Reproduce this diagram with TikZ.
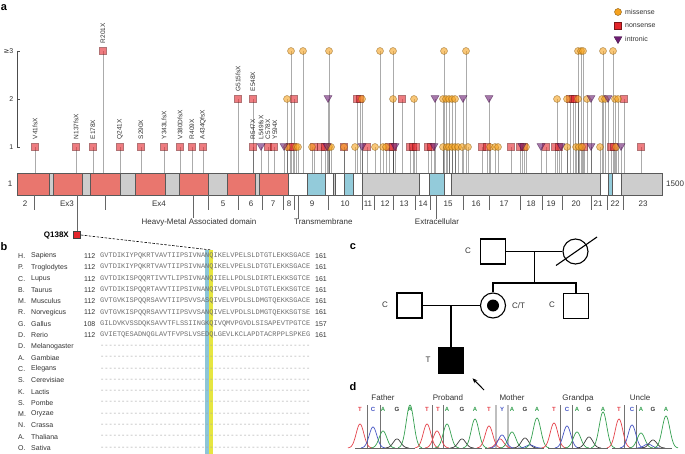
\documentclass[tikz,border=0pt]{standalone}
\usepackage{fontspec}
\setmainfont{Liberation Sans}
\setmonofont{Liberation Mono}
\newfontfamily\dvfont{DejaVu Sans}
\usetikzlibrary{shapes.geometric,arrows.meta}
\definecolor{misC}{HTML}{F5A21E}
\definecolor{nonC}{HTML}{E3262C}
\definecolor{intC}{HTML}{6C1D72}
\definecolor{exRed}{HTML}{E9766E}
\definecolor{exGray}{HTML}{CDCDCD}
\definecolor{exBlue}{HTML}{93CBDA}
\definecolor{hlBlue}{HTML}{8DC6D8}
\definecolor{hlYel}{HTML}{E6E640}
\definecolor{chT}{HTML}{E5434B}
\definecolor{chC}{HTML}{4656C4}
\definecolor{chA}{HTML}{35A050}
\definecolor{chG}{HTML}{3A3A3A}
\definecolor{txt}{HTML}{333333}
\definecolor{seqg}{HTML}{6E6E6E}
\begin{document}
\begin{tikzpicture}[x=1pt,y=-1pt,
  plab/.style={font=\fontsize{11}{12}\selectfont\bfseries, inner sep=0},
  stem/.style={draw=black, opacity=0.33, line width=0.6},
  mis/.style={circle, draw=misC!55!black, fill=misC, fill opacity=0.6, draw opacity=0.6, minimum size=7, inner sep=0, line width=0.5},
  non/.style={rectangle, draw=nonC!55!black, fill=nonC, fill opacity=0.6, draw opacity=0.6, minimum size=6.8, inner sep=0, line width=0.5},
  intr/.style={regular polygon, regular polygon sides=3, shape border rotate=180, draw=intC!60!black, fill=intC, fill opacity=0.6, draw opacity=0.6, minimum size=9, inner sep=0, line width=0.5},
  mlab/.style={font=\fontsize{6.5}{7}\selectfont, text=txt, rotate=90, anchor=west, inner sep=0},
  axlab/.style={font=\fontsize{7}{8}\selectfont, text=txt, anchor=east, inner sep=0},
  exlab/.style={font=\fontsize{8}{9}\selectfont, text=txt, inner sep=0},
  seg/.style={draw=black!65, line width=0.6},
  sep/.style={draw=black!60, line width=0.6},
  spab/.style={font=\fontsize{7}{8}\selectfont, text=txt, anchor=west, inner sep=0},
  spnum/.style={font=\fontsize{7}{8}\selectfont, text=txt, inner sep=0},
  seqt/.style={font=\fontsize{7}{8}\selectfont\ttfamily, text=seqg, anchor=west, inner sep=0},
  ped/.style={draw, line width=1.1, minimum size=25, inner sep=0},
  pl/.style={line width=1.1},
  pedlab/.style={font=\fontsize{8}{9}\selectfont, text=txt, inner sep=0},
  clab/.style={font=\fontsize{8}{9}\selectfont, text=txt, inner sep=0},
  blet/.style={font=\fontsize{6}{7}\selectfont\bfseries, inner sep=0},
  cbase/.style={draw=black!60, line width=0.6},
  cvl/.style={draw=black!55, line width=0.7},
  leglab/.style={font=\fontsize{7}{8}\selectfont, text=txt, anchor=west, inner sep=0}
]
\useasboundingbox (0,0) rectangle (685,454);
\fill[white] (0,0) rectangle (685,454);

% ---------------- panel letters
\node[plab] (La) at (4,8) {a};
\node[plab] (Lb) at (4,247) {b};
\node[plab] (Lc) at (353,247) {c};
\node[plab] (Ld) at (353,387) {d};

% ---------------- legend
\node[circle, draw=misC!55!black, fill=misC, minimum size=7, inner sep=0] (lgm) at (618,12) {};
\node[leglab] (lgmt) at (625,12) {missense};
\node[rectangle, draw=nonC!55!black, fill=nonC, minimum size=7, inner sep=0] (lgn) at (618,26) {};
\node[leglab] (lgnt) at (625,26) {nonsense};
\node[regular polygon, regular polygon sides=3, shape border rotate=180, draw=intC!60!black, fill=intC, minimum size=9, inner sep=0] (lgi) at (618,39) {};
\node[leglab] (lgit) at (625,39) {intronic};

% ---------------- y axis
\draw[draw=black!70, line width=0.6] (17,51) -- (17,147);
\foreach \y in {51,99,147} \draw[draw=black!70, line width=0.6] (17,\y) -- (20,\y);
\node[axlab] (ax3) at (13.5,51) {{\dvfont ≥}3};
\node[axlab] (ax2) at (13.5,99) {2};
\node[axlab] (ax1) at (13.5,147) {1};

% ---------------- lollipop data
\def\sqA{35,76,93,120,141,164,180,192,203,253,268,274,290,293,314,321,325,344,367,389,393,410,413,416,428,431,482,487,511,520,524,546,555,559,584,611,614,641}
\def\ciA{287,296,298,312,329,331,344,355,375,383,386,443,447,449,452,455,458,462,468,490,495,498,526,567,576,579,582,600,616}
\def\trA{261,284,327,362,395,434,522,541,561,591,621}
\def\sqB{238,253,294,357,360,402,570,573,575,624}
\def\ciB{287,362,393,414,443,446,449,452,455,557,567,578,587,602,605,615,618}
\def\trB{328,435,463,489,591,608}
\def\sqC{103}
\def\ciC{291,303,329,380,393,444,466,578,581,583,603,613}

% stems
\foreach \x in \sqA {\draw[stem] (\x,173) -- (\x,147);}
\foreach \x in \ciA {\draw[stem] (\x,173) -- (\x,147);}
\foreach \x in \trA {\draw[stem] (\x,173) -- (\x,147);}
\foreach \x in \sqB {\draw[stem] (\x,173) -- (\x,99);}
\foreach \x in \ciB {\draw[stem] (\x,173) -- (\x,99);}
\foreach \x in \trB {\draw[stem] (\x,173) -- (\x,99);}
\foreach \x in \sqC {\draw[stem] (\x,173) -- (\x,51);}
\foreach \x in \ciC {\draw[stem] (\x,173) -- (\x,51);}

% markers
\foreach \x [count=\i] in \sqA {\node[non] (sa\i) at (\x,147) {};}
\foreach \x [count=\i] in \ciA {\node[mis] (ca\i) at (\x,147) {};}
\foreach \x [count=\i] in \trA {\node[intr] (ta\i) at (\x,146) {};}
\foreach \x [count=\i] in \sqB {\node[non] (sb\i) at (\x,99) {};}
\foreach \x [count=\i] in \ciB {\node[mis] (cb\i) at (\x,99) {};}
\foreach \x [count=\i] in \trB {\node[intr] (tb\i) at (\x,98) {};}
\foreach \x [count=\i] in \sqC {\node[non] (sc\i) at (\x,51) {};}
\foreach \x [count=\i] in \ciC {\node[mis] (cc\i) at (\x,51) {};}

% mutation labels
\foreach \x/\t [count=\i] in {35/V41fsX, 76/N137fsX, 93/E178X, 120/Q241X, 141/S290X, 164/Y343LfsX, 180/V380DfsX, 192/R409X, 203/A434QfsX, 253/R547X, 261/L549fsX, 268/C578X, 275/Y594X}
  {\node[mlab] (ml\i) at (\x,139.5) {\t};}
\node[mlab] (mlG) at (238,91.5) {G515fsX};
\node[mlab] (mlE) at (253,91.5) {E548X};
\node[mlab] (mlR) at (103,43.5) {R201X};

% ---------------- protein bar
\foreach \a/\b/\c in {17/49/exRed, 49/53/exGray, 53/82/exRed, 82/90/exGray, 90/120/exRed, 120/135/exGray, 135/165/exRed, 165/179/exGray, 179/208/exRed, 208/227/exGray, 227/255/exRed, 255/259/exGray, 259/288/exRed, 288/307/white, 307/325/exBlue, 325/333/white, 333/335/exGray, 335/344/white, 344/353/exBlue, 353/362/white, 362/419/exGray, 419/429/white, 429/444/exBlue, 444/451/white, 451/600/exGray, 600/608/white, 608/612/exBlue, 612/621/white, 621/662/exGray}
  {\draw[seg, fill=\c] (\a,173) rectangle (\b,195);}
\node[exlab] (b1) at (10,184) {1};
\node[exlab, anchor=west] (b1500) at (666,184) {1500};

% exon separators and labels
\foreach \x in {34,105,208,238,262,283,294,328,362,374,393,415,430,463,489,520,542,562,591,607,623}
  {\draw[sep] (\x,195) -- (\x,210);}
\foreach \x/\t [count=\i] in {25/2, 67/Ex3, 159/Ex4, 223/5, 251/6, 273/7, 289/8, 312/9, 345/10, 368/11, 385/12, 404/13, 423/14, 448/15, 476/16, 504/17, 531/18, 551/19, 576/20, 598/21, 615/22, 643/23}
  {\node[exlab] (ex\i) at (\x,204) {\t};}

% domain labels
\node[exlab] (hma) at (199,222) {Heavy-Metal Associated domain};
\node[exlab, anchor=west] (tm) at (294,222) {Transmembrane};
\node[exlab] (ec) at (437,222) {Extracellular};
\coordinate (hmaT) at (193,195);
\coordinate (tmT) at (298,195);
\coordinate (ecT) at (436,195);
\draw[sep] (hmaT) -- (hmaT |- hma.north);
\draw[sep] (tmT) -- (tmT |- tm.north);
\draw[sep] (ecT) -- (ecT |- ec.north);

% Q138X
\node[rectangle, draw=black!75, fill=nonC, minimum size=7, inner sep=0, line width=0.6] (q) at (77,235) {};
\node[font=\fontsize{8}{9}\selectfont\bfseries, anchor=east, inner sep=0] (qlab) at (69,235) {Q138X};
\coordinate (qT) at (77,195);
\draw[sep] (qT) -- (q.north);
\coordinate (qcol) at (211.3,250);
\draw[line width=0.6, dash pattern=on 2.5pt off 1.5pt] (q.east) -- (qcol);

% ---------------- panel b: alignment
\fill[hlBlue] (205,250) rectangle (209.2,454);
\fill[hlYel] (209.2,250) rectangle (213.4,454);
\foreach \ab/\nm/\st/\sq/\en [count=\i from 0] in {
 H./Sapiens/112/GVTDIKIYPQKRTVAVTIIPSIVNANQIKELVPELSLDTGTLEKKSGACE/161,
 P./Troglodytes/112/GVTDIKIYPQKRTVAVTIIPSIVNANQIKELVPELSLDTGTLEKKSGACE/161,
 C./Lupus/112/GVTDIKISPQQRTIVVTLIPSIVNANQIIELLPDLSLDIRTLEKKSGTCE/161,
 B./Taurus/112/GVTDIKISPQQRTAVVTIIPSIVNANQIVELVPDLSLDTGTLEKKSGTCE/161,
 M./Musculus/112/GVTGVKISPQQRSAVVTIIPSVVSASQIVELVPDLSLDMGTQEKKSGACE/161,
 R./Norvegicus/112/GVTGVKISPQQRSAVVTIIPSVVSANQIVELVPDLSLDMGTQEKKSGTSE/161,
 G./Gallus/108/GILDVKVSSDQKSAVVTFLSSIINGKQIVQMVPGVDLSISAPEVTPGTCE/157,
 D./Rerio/112/GVIETQESADNQGLAVTFVPSLVSEDQLGEVLKCLAPDTACRPPLSPKEG/161}
{
 \pgfmathsetmacro\yy{256+11.3*\i}
 \node[spab] (ab\i) at (18,\yy) {\ab};
 \node[spab] (nm\i) at (31,\yy) {\nm};
 \node[spnum, anchor=east] (st\i) at (95.5,\yy) {\st};
 \node[seqt] (sq\i) at (100,\yy) {\sq};
 \node[spnum, anchor=west] (en\i) at (315,\yy) {\en};
}
\foreach \ab/\nm [count=\i from 8] in {D./Melanogaster, A./Gambiae, C./Elegans, S./Cerevisiae, K./Lactis, S./Pombe, M./Oryzae, N./Crassa, A./Thaliana, O./Sativa}
{
 \pgfmathsetmacro\yy{256+11.3*\i}
 \node[spab] (ab\i) at (18,\yy) {\ab};
 \node[spab] (nm\i) at (31,\yy) {\nm};
 \node[seqt, text=black!35] (sq\i) at (100,\yy) {--------------------------------------------------};
}

% ---------------- panel c: pedigree
\node[ped, rectangle] (gf) at (493,251.5) {};
\node[ped, circle] (gm) at (575.5,251.5) {};
\node[ped, rectangle] (fa) at (409.5,305.5) {};
\node[ped, circle] (mo) at (493,305.5) {};
\node[circle, fill=black, minimum size=12, inner sep=0] (mod) at (mo) {};
\node[ped, rectangle] (un) at (576,306) {};
\node[ped, rectangle, fill=black] (pr) at (451,360.5) {};
\draw[pl] (gf.east) -- (gm.west);
\coordinate (gsib) at (534.5,283);
\draw[pl] (gsib |- gf.east) -- (gsib);
\draw[pl] (mo.north) -- (mo.north |- gsib) -- (un.north |- gsib) -- (un.north);
\draw[pl] (fa.east) -- (mo.west);
\draw[pl] (pr.north |- fa.east) -- (pr.north);
\draw[pl] (gm) ++(-19.5,14) -- ++(41,-28.5);
\coordinate (arS) at (484,390);
\coordinate (arE) at (472.5,378.3);
\draw[line width=1, -{Stealth[length=5pt,width=4pt]}] (arS) -- (arE);
\node[pedlab] (lgf) at (468,251) {C};
\node[pedlab] (lfa) at (385,305) {C};
\node[pedlab, anchor=west] (lmo) at (512,306) {C/T};
\node[pedlab] (lun) at (552,305) {C};
\node[pedlab] (lpr) at (428,360) {T};

% ---------------- panel d: chromatograms
\node[clab] (cf) at (383,398) {Father};
\node[clab] (cp) at (448,398) {Proband};
\node[clab] (cm) at (512,398) {Mother};
\node[clab] (cg) at (578,398) {Grandpa};
\node[clab] (cu) at (640,398) {Uncle};
\foreach \x in {367,380,432,443,560,572,624,636} {\draw[cvl] (\x,405) -- (\x,448);}
\foreach \x in {496,508} {\draw[cvl, line width=1.8, draw=black!25] (\x,405) -- (\x,448);}
\foreach \c/\h/\col in {360/24/chT, 373/21/chC, 383/17/chA, 397/9/chG, 410/43/chA,
   427/24/chT, 437/17/chT, 447/24/chA, 462/9/chG, 475/29/chA,
   489/22/chT, 500/9/chT, 502/13/chC, 512/16/chA, 525/10/chG, 530/3/chC, 537/30/chA,
   554/25/chT, 567/22/chC, 577/16/chA, 589/11/chG, 603/36/chA,
   619/29/chT, 632/23/chC, 641/15/chA, 648/4/chC, 653/8/chG, 666/32/chA}
{
  \pgfmathsetmacro\da{\c-12}
  \pgfmathsetmacro\db{\c+12}
  \draw[\col, line width=0.7] plot[domain=\da:\db, samples=37, smooth] (\x,{448-\h*exp(-((\x-\c)*(\x-\c))/28.9)});
}
\foreach \a/\b [count=\i] in {355/415, 419/482, 485/544, 548/608, 612/672}
  {\draw[cbase] (\a,448) -- (\b,448);}
\foreach \c/\l/\col [count=\i] in {360/T/chT, 373/C/chC, 383/A/chA, 397/G/chG, 410/A/chA, 427/T/chT, 438/T/chT, 447/A/chA, 462/G/chG, 475/A/chA, 489/T/chT, 502/Y/chC, 512/A/chA, 525/G/chG, 537/A/chA, 554/T/chT, 567/C/chC, 577/A/chA, 589/G/chG, 603/A/chA, 619/T/chT, 632/C/chC, 641/A/chA, 653/G/chG, 666/A/chA}
  {\node[blet, text=\col] (bs\i) at (\c,409.5) {\l};}
\end{tikzpicture}
\end{document}
